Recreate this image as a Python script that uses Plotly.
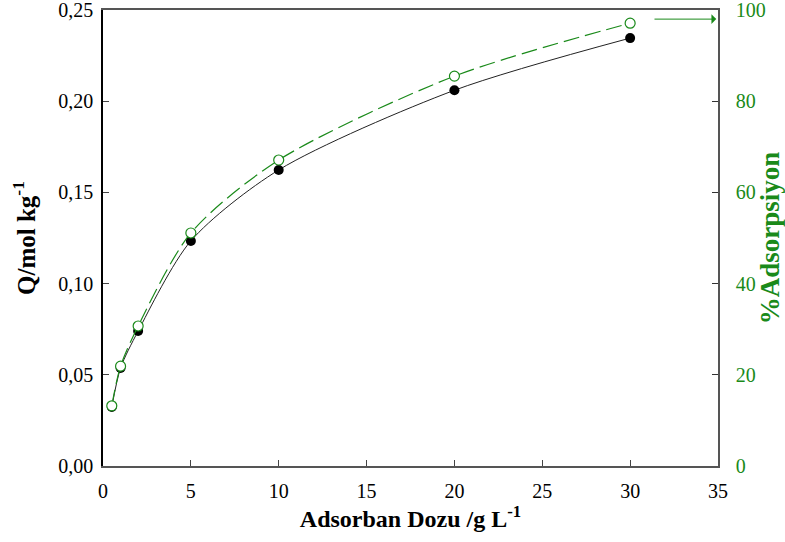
import plotly.graph_objects as go

# Adsorbent dose (g/L)
dose = [0.5, 1, 2, 5, 10, 20, 30]
# Adsorbed amount Q (mol/kg)
q_values = [0.0323, 0.0537, 0.0740, 0.1234, 0.1623, 0.2060, 0.2346]
# Percent adsorption
adsorption_pct = [13.2, 21.9, 30.7, 51.1, 67.1, 85.5, 97.1]

left_ticks = [0, 0.05, 0.10, 0.15, 0.20, 0.25]
right_ticks = [0, 20, 40, 60, 80, 100]
x_ticks = [0, 5, 10, 15, 20, 25, 30, 35]

green = "#1a8a1a"
serif = "Liberation Serif"

fig = go.Figure()

fig.add_trace(go.Scatter(
    x=dose, y=q_values, mode="lines+markers",
    line=dict(color="#222", width=1, shape="spline", smoothing=0.8),
    marker=dict(color="black", size=10),
    yaxis="y", showlegend=False,
))

fig.add_trace(go.Scatter(
    x=dose, y=adsorption_pct, mode="lines+markers",
    line=dict(color=green, width=1.2, dash="16px,6px", shape="spline", smoothing=0.8),
    marker=dict(color="white", size=10, line=dict(color=green, width=1.2)),
    yaxis="y2", showlegend=False,
))

# Arrow pointing to the right-hand axis
fig.add_annotation(
    x=34.9, y=98, ax=31.3, ay=98,
    xref="x", yref="y2", axref="x", ayref="y2",
    showarrow=True, arrowhead=1, arrowsize=1.6, arrowwidth=1,
    arrowcolor=green, text="",
)

fig.update_layout(
    width=785, height=542,
    margin=dict(l=103, r=67, t=10, b=76),
    paper_bgcolor="white", plot_bgcolor="white",
    separators=",.",
    font=dict(family=serif, size=20, color="black"),
    xaxis=dict(
        range=[0, 35], tickvals=x_ticks, ticks="inside", ticklen=6,
        showline=True, linecolor="#555", linewidth=1.5, mirror=True,
        showgrid=False, zeroline=False, automargin=False,
        ticklabelstandoff=6, ticklabeloverflow="allow",
        title=dict(text="<b>Adsorban Dozu /g L<sup>-1</sup></b>",
                   font=dict(size=24, family=serif), standoff=8),
        tickfont=dict(size=20, family=serif),
    ),
    yaxis=dict(
        range=[0, 0.25], tickvals=left_ticks, tickformat=".2f",
        ticks="inside", ticklen=6,
        showline=True, linecolor="black", linewidth=1.5,
        showgrid=False, zeroline=False, automargin=False,
        ticklabelstandoff=4, ticklabeloverflow="allow",
        title=dict(text="<b>Q/mol kg<sup>-1</sup></b>",
                   font=dict(size=25, family=serif), standoff=16),
        tickfont=dict(size=20, family=serif),
    ),
    yaxis2=dict(
        range=[0, 100], tickvals=right_ticks, overlaying="y", side="right",
        ticks="inside", ticklen=6, tickcolor="#333",
        showline=True, linecolor="#555", linewidth=1.5,
        showgrid=False, zeroline=False, automargin=False,
        ticklabelstandoff=12, ticklabeloverflow="allow",
        title=dict(text="<b>%Adsorpsiyon</b>",
                   font=dict(size=27, family=serif, color=green), standoff=6),
        tickfont=dict(size=20, family=serif, color=green),
    ),
)

fig.write_html("out.html")
